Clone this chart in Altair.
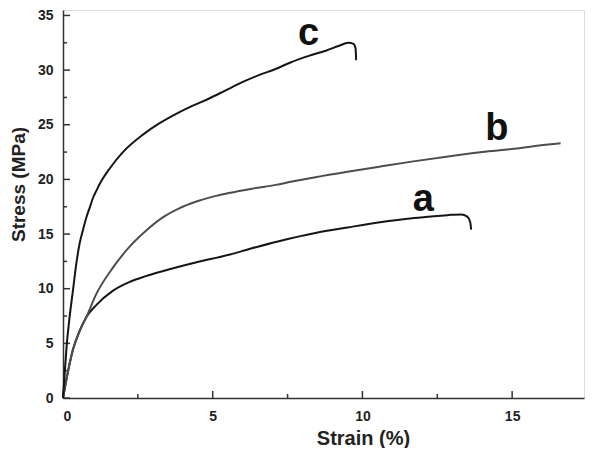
import altair as alt
import pandas as pd

# ---- data ----
a_x = [0, 0.15, 0.34, 0.55, 0.78, 1.11, 1.66, 2.21, 2.77, 3.32, 4.43, 5.54, 6.31, 7.21, 8.43, 9.5, 10.64, 11.5, 12.3, 12.9, 13.3, 13.5, 13.6, 13.63]
a_y = [0, 2.2, 4.5, 6.1, 7.4, 8.5, 9.8, 10.6, 11.15, 11.6, 12.4, 13.1, 13.7, 14.35, 15.1, 15.6, 16.1, 16.4, 16.6, 16.75, 16.8, 16.6, 16.1, 15.4]

b_x = [0, 0.15, 0.34, 0.55, 0.78, 1.11, 1.66, 2.21, 2.77, 3.32, 3.88, 4.43, 4.98, 5.54, 6.31, 7.1, 7.65, 8.43, 9.5, 10.64, 11.7, 12.86, 14.0, 15.07, 15.9, 16.62]
b_y = [0, 2.2, 4.5, 6.1, 7.4, 9.5, 11.9, 13.8, 15.3, 16.5, 17.35, 17.95, 18.4, 18.75, 19.15, 19.5, 19.8, 20.2, 20.7, 21.2, 21.65, 22.1, 22.5, 22.8, 23.1, 23.3]

c_x = [0, 0.05, 0.12, 0.22, 0.34, 0.44, 0.56, 0.66, 0.79, 0.89, 1.0, 1.12, 1.27, 1.56, 2.0, 2.67, 3.2, 3.78, 4.3, 4.88, 5.4, 5.99, 6.5, 7.1, 7.6, 8.21, 8.8, 9.2, 9.53, 9.7, 9.77, 9.79]
c_y = [0, 2.0, 4.7, 7.4, 10.0, 12.2, 14.2, 15.3, 16.6, 17.4, 18.3, 19.0, 19.8, 21.0, 22.5, 24.1, 25.1, 26.0, 26.7, 27.4, 28.1, 28.9, 29.5, 30.1, 30.7, 31.3, 31.8, 32.2, 32.5, 32.4, 32.0, 30.9]

label_names = ["a", "b", "c"]
label_x = [12.03, 14.49, 8.2]
label_y = [17.1, 23.6, 32.3]

x_major = [0, 5, 10, 15]
x_minor = [2.5, 7.5, 12.5]
y_major = [0, 5, 10, 15, 20, 25, 30, 35]
y_minor = [2.5, 7.5, 12.5, 17.5, 22.5, 27.5, 32.5]

rows = []
for name, xs, ys in [("a", a_x, a_y), ("b", b_x, b_y), ("c", c_x, c_y)]:
    for i, (xv, yv) in enumerate(zip(xs, ys)):
        rows.append({"series": name, "strain": xv, "stress": yv, "idx": i})
df = pd.DataFrame(rows)
labels_df = pd.DataFrame({"name": label_names, "strain": label_x, "stress": label_y})

W, H = 521, 388
xscale = alt.Scale(domain=[0, 17.4], nice=False, zero=False)
yscale = alt.Scale(domain=[0, 35.5], nice=False, zero=False)
FONT = "Liberation Sans"

x_axis = alt.Axis(values=x_major, ticks=False, tickSize=0, grid=False, labelFont=FONT,
                  labelFontWeight="bold", labelFontSize=14, labelColor="#222", labelPadding=11,
                  domainColor="#333", domainWidth=1.5, title="Strain (%)", titleFont=FONT,
                  titleFontSize=20, titleFontWeight="bold", titleColor="#222",
                  titleX=300, titleY=46, titleAlign="center", titleBaseline="alphabetic")
y_axis = alt.Axis(values=y_major, ticks=False, tickSize=0, grid=False, labelFont=FONT,
                  labelFontWeight="bold", labelFontSize=14, labelColor="#222", labelPadding=10,
                  domainColor="#333", domainWidth=1.5, title="Stress (MPa)", titleFont=FONT,
                  titleFontSize=19, titleFontWeight="bold", titleColor="#222",
                  titleX=-39, titleY=174, titleAngle=270, titleAlign="center",
                  titleBaseline="alphabetic")

lines = alt.Chart(df).mark_line(strokeWidth=2, strokeJoin="round", interpolate="monotone").encode(
    x=alt.X("strain:Q", scale=xscale, axis=x_axis),
    y=alt.Y("stress:Q", scale=yscale, axis=y_axis),
    detail="series:N",
    order="idx:Q",
    color=alt.Color("series:N", scale=alt.Scale(domain=["a", "b", "c"],
                                                 range=["#151515", "#4d4d4d", "#151515"]),
                    legend=None),
)

texts = alt.Chart(labels_df).mark_text(font=FONT, fontSize=38, fontWeight="bold",
                                       baseline="alphabetic", align="center", color="#111").encode(
    x=alt.X("strain:Q", scale=xscale),
    y=alt.Y("stress:Q", scale=yscale),
    text="name:N",
)

def xticks(vals, length):
    d = pd.DataFrame({"v": vals})
    return alt.Chart(d).mark_rule(color="#333", strokeWidth=1.5).encode(
        x=alt.X("v:Q", scale=xscale), y=alt.value(H), y2=alt.value(H - length))

def yticks(vals, length):
    d = pd.DataFrame({"v": vals})
    return alt.Chart(d).mark_rule(color="#333", strokeWidth=1.5).encode(
        y=alt.Y("v:Q", scale=yscale), x=alt.value(0), x2=alt.value(length))

chart = alt.layer(
    xticks(x_major, 7), xticks(x_minor, 4), yticks(y_major, 7), yticks(y_minor, 4),
    lines, texts,
).properties(
    width=W, height=H,
    autosize=alt.AutoSizeParams(type="none"),
    padding={"left": 55, "top": 2, "right": 1, "bottom": 50},
).configure_view(stroke="#333", strokeWidth=1.5).configure(background="white")

chart.save("out.html", embed_options={"renderer": "svg", "actions": False})
